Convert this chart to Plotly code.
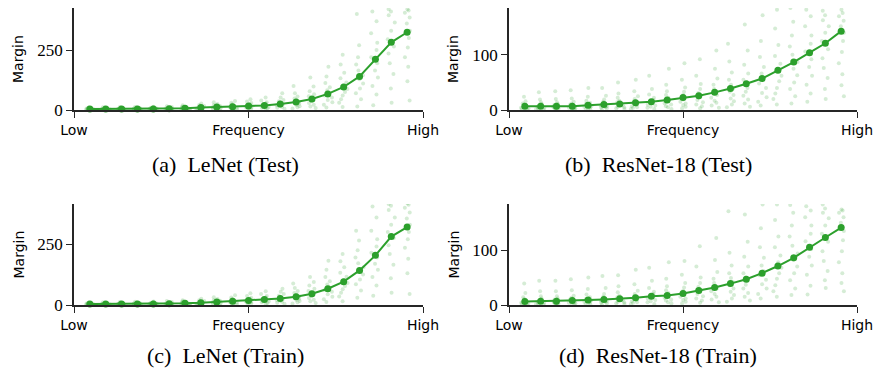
import plotly.graph_objects as go

# ---------------- data ----------------
x_ticklabels = ["Low", "Frequency", "High"]
captions = ["(a)  LeNet (Test)", "(b)  ResNet-18 (Test)", "(c)  LeNet (Train)", "(d)  ResNet-18 (Train)"]

lenet_test_mean = [4, 4, 4, 4, 4, 5, 7, 10, 12, 14, 17, 19, 25, 33, 46, 67, 96, 140, 211, 282, 324]
resnet_test_mean = [7, 7, 7, 7, 8.5, 10, 11, 13, 15, 18, 22.5, 26, 32, 39, 47.5, 57, 72, 87, 104, 121, 143]
lenet_train_mean = [4, 4, 4, 4, 4, 5, 7, 9, 12, 15, 18, 23, 27, 34, 46, 67, 96, 142, 204, 281, 320]
resnet_train_mean = [6.6, 7, 7, 8, 9, 10, 11.5, 13, 16, 17.5, 21, 26.5, 32, 39, 47, 58, 71, 86, 105, 123, 141]

lenet_test_cloud = [
    [1, 2, 3, 3, 4, 4, 5, 5, 6, 7, 8, 10],
    [1, 2, 3, 3, 4, 4, 5, 6, 6, 7, 9, 11],
    [1, 2, 2, 3, 4, 4, 5, 5, 6, 8, 9, 12],
    [1, 2, 3, 4, 4, 5, 5, 6, 7, 8, 10, 13],
    [1, 2, 3, 3, 4, 5, 5, 6, 7, 9, 11, 14],
    [1, 2, 3, 4, 5, 5, 6, 7, 8, 10, 12, 16],
    [2, 3, 4, 5, 6, 7, 8, 9, 10, 12, 15, 20],
    [2, 4, 5, 7, 8, 9, 11, 12, 14, 17, 21, 27],
    [3, 5, 6, 8, 10, 11, 13, 15, 17, 20, 25, 32],
    [3, 5, 7, 9, 11, 13, 15, 17, 20, 24, 30, 38],
    [3, 6, 8, 11, 13, 16, 18, 21, 24, 29, 35, 45],
    [4, 7, 9, 12, 15, 18, 20, 23, 27, 32, 40, 52],
    [5, 9, 12, 16, 20, 23, 27, 31, 36, 42, 52, 70],
    [6, 11, 16, 21, 26, 30, 35, 41, 48, 56, 70, 100],
    [8, 15, 22, 29, 36, 42, 49, 57, 66, 78, 98, 135],
    [10, 22, 32, 42, 52, 60, 70, 82, 95, 112, 140, 180],
    [12, 30, 45, 60, 75, 88, 100, 115, 132, 155, 190, 230],
    [15, 45, 70, 90, 110, 128, 145, 165, 190, 220, 270, 400],
    [20, 65, 100, 135, 165, 195, 220, 250, 280, 320, 370, 410],
    [30, 90, 150, 195, 235, 265, 295, 330, 365, 395, 410, 420],
    [40, 120, 180, 220, 260, 300, 330, 360, 385, 405, 415, 420],
]

resnet_test_cloud = [
    [1, 2, 3, 4, 5, 6, 7, 8, 10, 12, 16, 24],
    [1, 2, 3, 4, 5, 6, 7, 9, 11, 14, 19, 32],
    [1, 2, 3, 4, 5, 6, 7, 9, 11, 14, 20, 34],
    [1, 2, 3, 4, 5, 6, 8, 9, 12, 15, 21, 36],
    [1, 2, 3, 5, 6, 7, 9, 11, 13, 17, 24, 40],
    [1, 3, 4, 5, 7, 8, 10, 12, 15, 19, 26, 40],
    [2, 3, 5, 6, 8, 10, 12, 14, 17, 22, 30, 50],
    [2, 4, 5, 7, 9, 11, 13, 16, 20, 25, 34, 55],
    [2, 4, 6, 8, 10, 13, 15, 18, 22, 28, 38, 62],
    [2, 5, 7, 10, 12, 15, 18, 22, 27, 34, 46, 75],
    [3, 6, 9, 12, 15, 19, 23, 27, 33, 41, 55, 85],
    [3, 7, 10, 14, 18, 22, 26, 31, 38, 47, 62, 92],
    [4, 8, 13, 17, 22, 27, 32, 38, 46, 57, 75, 108],
    [5, 10, 16, 21, 27, 33, 39, 46, 55, 68, 88, 120],
    [6, 12, 19, 26, 33, 40, 47, 55, 66, 82, 108, 155],
    [8, 15, 23, 31, 40, 48, 57, 66, 78, 96, 125, 172],
    [10, 20, 30, 40, 52, 62, 72, 84, 98, 118, 148, 182],
    [12, 25, 38, 50, 63, 75, 87, 100, 115, 135, 160, 185],
    [15, 30, 46, 62, 78, 92, 106, 120, 135, 152, 170, 182],
    [20, 38, 58, 76, 94, 110, 125, 140, 152, 163, 172, 180],
    [25, 45, 65, 85, 105, 125, 140, 152, 162, 170, 176, 182],
]

lenet_train_cloud = [
    [1, 2, 3, 3, 4, 4, 5, 5, 6, 7, 8, 10],
    [1, 2, 3, 3, 4, 4, 5, 6, 6, 7, 9, 11],
    [1, 2, 2, 3, 4, 4, 5, 5, 6, 8, 9, 12],
    [1, 2, 3, 4, 4, 5, 5, 6, 7, 8, 10, 13],
    [1, 2, 3, 3, 4, 5, 5, 6, 7, 9, 11, 14],
    [1, 2, 3, 4, 5, 5, 6, 7, 8, 10, 12, 16],
    [2, 3, 4, 5, 6, 7, 8, 9, 10, 12, 15, 20],
    [2, 4, 5, 6, 8, 9, 10, 12, 14, 16, 20, 26],
    [3, 5, 6, 8, 10, 11, 13, 15, 17, 20, 25, 32],
    [3, 6, 8, 10, 12, 14, 16, 18, 21, 25, 31, 40],
    [4, 7, 9, 12, 14, 17, 19, 22, 25, 30, 37, 48],
    [5, 8, 11, 14, 17, 21, 24, 27, 31, 37, 45, 57],
    [5, 9, 13, 17, 21, 25, 29, 33, 38, 45, 54, 67],
    [6, 11, 16, 21, 26, 31, 36, 42, 49, 58, 70, 88],
    [8, 15, 22, 29, 36, 43, 50, 58, 67, 80, 95, 115],
    [12, 24, 34, 44, 54, 62, 72, 84, 98, 115, 145, 182],
    [15, 35, 50, 65, 78, 90, 102, 116, 132, 155, 180, 210],
    [30, 60, 85, 105, 125, 140, 155, 172, 195, 225, 265, 305],
    [38, 80, 115, 145, 170, 195, 215, 240, 270, 305, 360, 405],
    [50, 110, 165, 210, 245, 275, 300, 330, 360, 390, 408, 415],
    [45, 130, 190, 235, 270, 300, 330, 355, 380, 400, 412, 418],
]

resnet_train_cloud = [
    [1, 2, 3, 4, 5, 6, 7, 9, 11, 14, 22, 39],
    [1, 2, 3, 4, 5, 6, 7, 9, 12, 16, 25, 44],
    [1, 2, 3, 4, 5, 6, 8, 10, 12, 16, 25, 44],
    [1, 2, 3, 4, 6, 7, 8, 10, 13, 17, 27, 47],
    [1, 2, 4, 5, 6, 8, 9, 11, 14, 19, 29, 50],
    [1, 3, 4, 6, 7, 8, 10, 12, 15, 20, 31, 53],
    [2, 3, 5, 6, 8, 10, 12, 14, 17, 23, 34, 54],
    [2, 4, 5, 7, 9, 11, 13, 16, 20, 26, 38, 64],
    [2, 5, 7, 9, 12, 14, 17, 20, 24, 31, 44, 68],
    [3, 5, 8, 10, 13, 16, 18, 22, 27, 34, 48, 78],
    [3, 6, 9, 12, 15, 19, 22, 26, 32, 40, 55, 80],
    [4, 8, 12, 16, 20, 24, 28, 33, 40, 50, 70, 107],
    [5, 10, 15, 20, 25, 30, 34, 40, 48, 60, 82, 122],
    [6, 12, 18, 24, 30, 36, 42, 49, 58, 72, 95, 171],
    [8, 15, 22, 30, 37, 44, 50, 58, 70, 88, 115, 165],
    [12, 20, 30, 38, 46, 54, 62, 72, 86, 105, 140, 183],
    [15, 25, 36, 48, 58, 68, 78, 90, 105, 125, 155, 183],
    [18, 30, 45, 58, 70, 82, 94, 108, 125, 145, 168, 182],
    [19, 35, 55, 72, 88, 102, 116, 130, 145, 160, 172, 180],
    [31, 45, 62, 80, 98, 115, 130, 145, 158, 168, 176, 183],
    [25, 40, 58, 78, 98, 118, 135, 150, 160, 168, 172, 174],
]

lenet_yticks = [0, 250]
resnet_yticks = [0, 100]

# ---------------- figure ----------------
W, H = 876, 373
GREEN = "#2ca02c"
AXC = "#262626"


def px_x(v):
    return v / W


def px_y(v):
    return 1 - v / H


panels = [
    # (mean, cloud, yticks, yrange, xdom(px), ydom(px top,bottom), caption center px, ytitle x px)
    (lenet_test_mean, lenet_test_cloud, lenet_yticks, [0, 425], (74, 423), (8, 110), (225, 164), 18),
    (resnet_test_mean, resnet_test_cloud, resnet_yticks, [0, 185], (509, 857), (8, 110), (658, 164), 453),
    (lenet_train_mean, lenet_train_cloud, lenet_yticks, [0, 415], (74, 423), (204, 305), (225, 355), 18),
    (resnet_train_mean, resnet_train_cloud, resnet_yticks, [0, 184], (509, 857), (204, 305), (658, 355), 453),
]

fig = go.Figure()
annotations = []
for i, (mean, cloud, yt, yr, xd, yd, cap, ytx) in enumerate(panels):
    n = i + 1
    xa = "x" if n == 1 else f"x{n}"
    ya = "y" if n == 1 else f"y{n}"
    idx = list(range(len(mean)))
    bx, by = [], []
    for k, col in enumerate(cloud):
        bx += [k] * len(col)
        by += col
    fig.add_trace(go.Box(
        x=bx, y=by, xaxis=xa, yaxis=ya,
        boxpoints="all", jitter=1.0, pointpos=0, width=0.6,
        fillcolor="rgba(0,0,0,0)", line=dict(width=0, color="rgba(0,0,0,0)"),
        marker=dict(size=4, color="rgba(44,160,44,0.2)", line=dict(width=0)),
        hoverinfo="skip", showlegend=False,
    ))
    fig.add_trace(go.Scatter(
        x=idx, y=mean, xaxis=xa, yaxis=ya, mode="lines+markers",
        line=dict(color=GREEN, width=2), marker=dict(color=GREEN, size=7),
        showlegend=False, cliponaxis=False,
    ))
    xkey = "xaxis" if n == 1 else f"xaxis{n}"
    ykey = "yaxis" if n == 1 else f"yaxis{n}"
    fig.update_layout(**{
        xkey: dict(
            domain=[px_x(xd[0]), px_x(xd[1])], anchor=ya, range=[-1, 21], automargin=False,
            tickvals=[-1, 10, 21], ticktext=x_ticklabels,
            showline=True, linecolor=AXC, linewidth=1.5, ticks="outside",
            ticklen=6, tickwidth=1.2, tickcolor=AXC, showgrid=False, zeroline=False,
            tickfont=dict(family="DejaVu Sans", size=14, color="black"),
        ),
        ykey: dict(
            domain=[px_y(yd[1]), px_y(yd[0])], anchor=xa, range=yr, automargin=False,
            tickvals=yt, ticktext=[str(v) for v in yt],
            showline=True, linecolor=AXC, linewidth=1.5, ticks="outside",
            ticklen=6, tickwidth=1.2, tickcolor=AXC, showgrid=False, zeroline=False,
            tickfont=dict(family="Liberation Serif", size=17, color="black"),
        ),
    })
    annotations.append(dict(
        text="Margin", xref="paper", yref="paper", x=px_x(ytx),
        y=px_y((yd[0] + yd[1]) / 2), textangle=-90, showarrow=False,
        xanchor="center", yanchor="middle",
        font=dict(family="DejaVu Sans", size=14, color="black"),
    ))
    annotations.append(dict(
        text=captions[i], xref="paper", yref="paper", x=px_x(cap[0]), y=px_y(cap[1]),
        showarrow=False, xanchor="center", yanchor="middle",
        font=dict(family="Liberation Serif", size=22, color="black"),
    ))

fig.update_layout(
    width=W, height=H, margin=dict(l=0, r=0, t=0, b=0),
    paper_bgcolor="white", plot_bgcolor="white",
    annotations=annotations, showlegend=False,
)

fig.write_html(
    "out.html",
    config={"displayModeBar": False},
    post_script="document.body.style.margin='0';document.body.style.overflow='hidden';",
)
